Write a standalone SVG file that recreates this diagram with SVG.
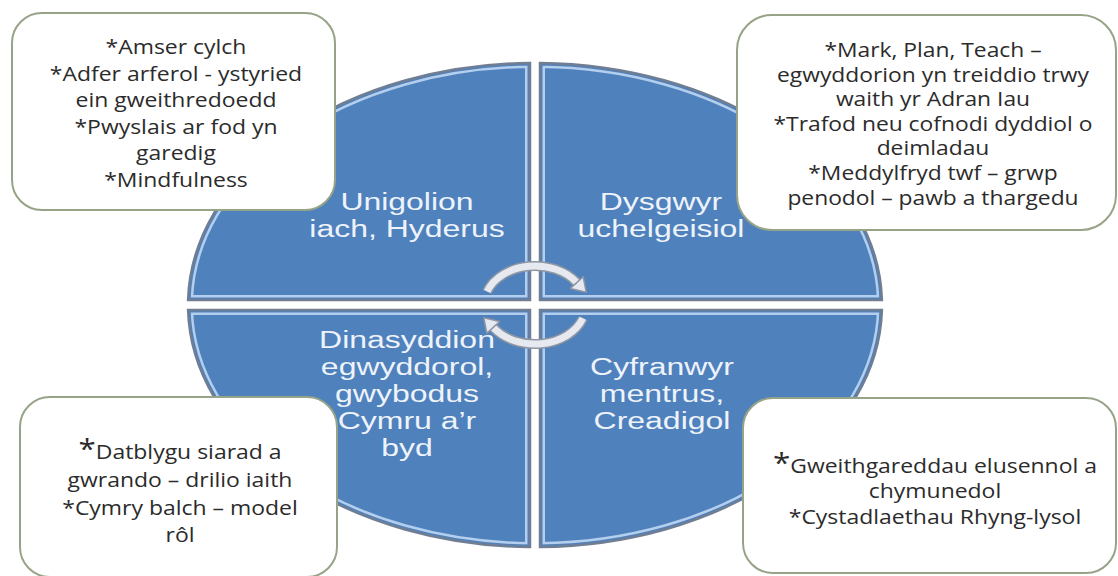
<svg xmlns="http://www.w3.org/2000/svg" width="1118" height="576" viewBox="0 0 1118 576">
<style>
.qfill{fill:#4F81BD}
.qhi{fill:none;stroke:#B4CFEE;stroke-width:10}
.qmid{fill:none;stroke:#4F81BD;stroke-width:5}
.qedge{fill:none;stroke:#6F7E92;stroke-width:2.5}
.qtext{font-family:"Liberation Sans",Arial,sans-serif;font-size:23px;fill:#EEF3FA;text-anchor:middle}
.box{fill:#FFFFFF;stroke:#96A387;stroke-width:2}
.btext{font-family:"Open Sans","DejaVu Sans",sans-serif;font-size:20.5px;fill:#2B2B2B;text-anchor:middle}
.btext-s{font-family:"Open Sans","DejaVu Sans",sans-serif;font-size:19.5px;fill:#2B2B2B;text-anchor:middle}
.arc-out{fill:none;stroke:#8E96A3;stroke-width:10}
.arc-in{fill:none;stroke:#E6E9EF;stroke-width:7}
.head{fill:#E6E9EF;stroke:#8E96A3;stroke-width:1.5;stroke-linejoin:round}
</style>
<defs>
<path id="qUL" d="M530,300 L188.1,300 A347,242 0 0 1 530,63 Z"/>
<path id="qUR" d="M540,300 L540,63 A347,242 0 0 1 881.9,300 Z"/>
<path id="qLL" d="M530,310 L530,547 A347,242 0 0 1 188.1,310 Z"/>
<path id="qLR" d="M540,310 L881.9,310 A347,242 0 0 1 540,547 Z"/>
<clipPath id="cUL"><use href="#qUL"/></clipPath>
<clipPath id="cUR"><use href="#qUR"/></clipPath>
<clipPath id="cLL"><use href="#qLL"/></clipPath>
<clipPath id="cLR"><use href="#qLR"/></clipPath>
</defs>
<rect x="0" y="0" width="1118" height="576" fill="#FFFFFF"/>

<g id="quadrant-unigolion">
<use href="#qUL" class="qfill"/>
<use href="#qUL" class="qhi" clip-path="url(#cUL)"/>
<use href="#qUL" class="qmid" clip-path="url(#cUL)"/>
<use href="#qUL" class="qedge"/>
</g>
<g id="quadrant-dysgwyr">
<use href="#qUR" class="qfill"/>
<use href="#qUR" class="qhi" clip-path="url(#cUR)"/>
<use href="#qUR" class="qmid" clip-path="url(#cUR)"/>
<use href="#qUR" class="qedge"/>
</g>
<g id="quadrant-dinasyddion">
<use href="#qLL" class="qfill"/>
<use href="#qLL" class="qhi" clip-path="url(#cLL)"/>
<use href="#qLL" class="qmid" clip-path="url(#cLL)"/>
<use href="#qLL" class="qedge"/>
</g>
<g id="quadrant-cyfranwyr">
<use href="#qLR" class="qfill"/>
<use href="#qLR" class="qhi" clip-path="url(#cLR)"/>
<use href="#qLR" class="qmid" clip-path="url(#cLR)"/>
<use href="#qLR" class="qedge"/>
</g>

<g id="box-top-left">
<rect class="box" x="12" y="13" width="323" height="197" rx="30" ry="30"/>
<g transform="matrix(1.12 0 0 1 -21.12 0)">
<text class="btext" x="176" y="54">*Amser cylch</text>
<text class="btext" x="176" y="80.6">*Adfer arferol - ystyried</text>
<text class="btext" x="176" y="107.2">ein gweithredoedd</text>
<text class="btext" x="176" y="133.8">*Pwyslais ar fod yn</text>
<text class="btext" x="176" y="160.4">garedig</text>
<text class="btext" x="176" y="187">*Mindfulness</text>
</g>
</g>

<g id="box-top-right">
<rect class="box" x="737" y="15" width="379" height="215" rx="35" ry="35"/>
<g transform="matrix(1.17 0 0 1 -158.61 0)">
<text class="btext-s" x="933" y="57">*Mark, Plan, Teach –</text>
<text class="btext-s" x="933" y="81.6">egwyddorion yn treiddio trwy</text>
<text class="btext-s" x="933" y="106.2">waith yr Adran Iau</text>
<text class="btext-s" x="933" y="130.8">*Trafod neu cofnodi dyddiol o</text>
<text class="btext-s" x="933" y="155.4">deimladau</text>
<text class="btext-s" x="933" y="180">*Meddylfryd twf – grwp</text>
<text class="btext-s" x="933" y="204.6">penodol – pawb a thargedu</text>
</g>
</g>

<g id="box-bottom-left">
<rect class="box" x="20" y="397" width="317" height="180" rx="30" ry="30"/>
<g transform="matrix(1.12 0 0 1 -21.6 0)">
<text class="btext" x="180" y="459"><tspan font-size="28">*</tspan>Datblygu siarad a</text>
<text class="btext" x="180" y="487">gwrando – drilio iaith</text>
<text class="btext" x="180" y="515">*Cymry balch – model</text>
<text class="btext" x="180" y="542">rôl</text>
</g>
</g>

<g id="box-bottom-right">
<rect class="box" x="743" y="398" width="373" height="175" rx="30" ry="30"/>
<g transform="matrix(1.12 0 0 1 -112.2 0)">
<text class="btext" x="935" y="473"><tspan font-size="28">*</tspan>Gweithgareddau elusennol a</text>
<text class="btext" x="935" y="498">chymunedol</text>
<text class="btext" x="935" y="524">*Cystadlaethau Rhyng-lysol</text>
</g>
</g>

<g id="label-unigolion" transform="matrix(1.39 0 0 1 -158.73 0)">
<text class="qtext" x="407" y="210">Unigolion</text>
<text class="qtext" x="407" y="237">iach, Hyderus</text>
</g>
<g id="label-dysgwyr" transform="matrix(1.39 0 0 1 -257.79 0)">
<text class="qtext" x="661" y="210">Dysgwyr</text>
<text class="qtext" x="661" y="237">uchelgeisiol</text>
</g>
<g id="label-dinasyddion" transform="matrix(1.39 0 0 1 -158.73 0)">
<text class="qtext" x="407" y="348">Dinasyddion</text>
<text class="qtext" x="407" y="375">egwyddorol,</text>
<text class="qtext" x="407" y="402">gwybodus</text>
<text class="qtext" x="407" y="429">Cymru a’r</text>
<text class="qtext" x="407" y="456">byd</text>
</g>
<g id="label-cyfranwyr" transform="matrix(1.39 0 0 1 -258.18 0)">
<text class="qtext" x="662" y="375">Cyfranwyr</text>
<text class="qtext" x="662" y="402">mentrus,</text>
<text class="qtext" x="662" y="429">Creadigol</text>
</g>

<g id="connectors">
<path class="arc-out" d="M487.1,291.6 A51,39 0 0 1 576.8,282.6"/>
<path class="arc-in" d="M487.1,291.6 A51,39 0 0 1 576.8,282.6"/>
<polygon class="head" points="583.2,276.8 586.2,292.2 570.4,288.4"/>
<path class="arc-out" d="M582.9,318.3 A51,39 0 0 1 493.2,327.4"/>
<path class="arc-in" d="M582.9,318.3 A51,39 0 0 1 493.2,327.4"/>
<polygon class="head" points="499.6,321.6 483.8,317.8 486.8,333.2"/>
</g>
</svg>
